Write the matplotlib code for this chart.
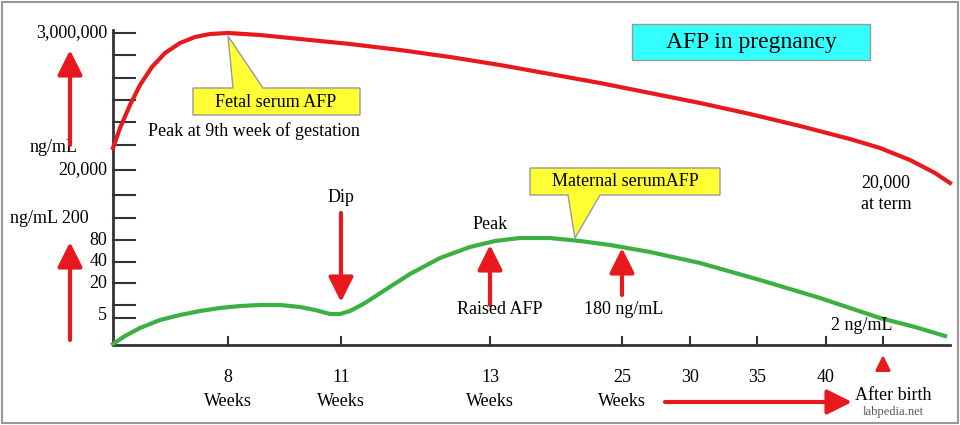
import matplotlib
matplotlib.use("Agg")
import matplotlib.pyplot as plt
from matplotlib.patches import Polygon, Rectangle

plt.rcParams['font.family'] = ['Liberation Serif', 'DejaVu Serif']

# Data (positions in chart pixel units)
fetal_x = [113, 120, 130, 140, 152, 165, 180, 195, 210, 228, 260, 300, 350, 400, 450, 500, 550, 600, 650, 700, 750, 800, 850, 880, 910, 935, 950]
fetal_y = [148, 128, 105, 85, 67, 53, 43, 37, 34, 33, 35, 39, 44, 50, 57, 65, 74, 83, 93, 103, 114, 126, 139, 148, 160, 173, 183]
maternal_x = [113, 125, 140, 160, 180, 200, 220, 240, 260, 280, 300, 315, 330, 340, 350, 365, 385, 410, 440, 470, 495, 520, 550, 580, 610, 650, 700, 760, 820, 880, 915, 945]
maternal_y = [344, 336, 328, 320, 315, 311, 308, 306, 305, 305, 307, 310, 314, 314, 311, 303, 290, 274, 258, 247, 241, 238, 238, 241, 245, 252, 263, 280, 298, 318, 327, 336]
xtick_pos = [228, 341, 490, 622, 690, 757, 826]
xtick_num = ["8", "11", "13", "25", "30", "35", "40"]
xtick_unit = ["Weeks", "Weeks", "Weeks", "Weeks", "", "", ""]
ytick_pos = [33, 55, 78, 100, 122, 145, 170, 195, 218, 240, 262, 283, 305, 318]
ylabels = [(33, "3,000,000"), (170, "20,000"), (240, "80"), (262, "40"), (283, "20"), (316, "5")]

fig = plt.figure(figsize=(9.6, 4.25), dpi=100)
ax = fig.add_axes([0, 0, 1, 1])
ax.set_xlim(0, 960); ax.set_ylim(425, 0); ax.axis('off')

ax.add_patch(Rectangle((2, 2), 956, 421, fill=False, ec='#999999', lw=1.5))

ax.plot([113, 113], [30, 345], color='#333333', lw=2)
ax.plot([113, 950], [345, 345], color='#333333', lw=2)
for y in ytick_pos:
    ax.plot([113, 135], [y, y], color='#333333', lw=1.5)
for x in xtick_pos + [883]:
    ax.plot([x, x], [345, 337], color='#333333', lw=1.5)

fs = 13
for y, t in ylabels:
    ax.text(107, y, t, ha='right', va='center', fontsize=fs)
ax.text(30, 148, "ng/mL", va='center', fontsize=fs)
ax.text(10, 218, "ng/mL 200", va='center', fontsize=fs)
for x, n, u in zip(xtick_pos, xtick_num, xtick_unit):
    ax.text(x, 377, n, ha='center', va='center', fontsize=fs)
    if u:
        ax.text(x, 401, u, ha='center', va='center', fontsize=fs)
ax.text(893, 395, "After birth", ha='center', va='center', fontsize=fs)
ax.text(893, 412, "labpedia.net", ha='center', va='center', fontsize=9, color='#555555')

ax.plot(fetal_x, fetal_y, color='#e8191c', lw=3, solid_joinstyle='round')
ax.plot(maternal_x, maternal_y, color='#3cb043', lw=3, solid_joinstyle='round')

def arrow(x0, y0, x1, y1, lw=3, hw=0.75, hl=1.5):
    ax.annotate("", xy=(x1, y1), xytext=(x0, y0),
                arrowprops=dict(arrowstyle=f"-|>,head_width={hw},head_length={hl}",
                                color='#e8191c', lw=lw, mutation_scale=10,
                                shrinkA=0, shrinkB=0))
arrow(70, 145, 70, 50)
arrow(70, 340, 70, 242)
arrow(341, 213, 341, 302)
arrow(490, 305, 490, 245)
arrow(622, 295, 622, 248)
arrow(665, 402, 852, 402)
arrow(883, 370, 883, 355, lw=2, hw=0.45, hl=0.9)

ax.add_patch(Polygon([(193, 88), (233, 88), (228, 36), (263, 88), (360, 88), (360, 115), (193, 115)],
                     closed=True, fc='#ffff33', ec='#999999', lw=1))
ax.text(276, 102, "Fetal serum AFP", ha='center', va='center', fontsize=fs)
ax.add_patch(Polygon([(530, 168), (720, 168), (720, 195), (600, 195), (575, 238), (568, 195), (530, 195)],
                     closed=True, fc='#ffff33', ec='#999999', lw=1))
ax.text(625, 181, "Maternal serumAFP", ha='center', va='center', fontsize=fs)
ax.add_patch(Rectangle((632, 24), 238, 36, fc='#33ffff', ec='#999999', lw=1))
ax.text(751, 42, "AFP in pregnancy", ha='center', va='center', fontsize=17)

ax.text(148, 131, "Peak at 9th week of gestation", va='center', fontsize=fs)
ax.text(341, 197, "Dip", ha='center', va='center', fontsize=fs)
ax.text(490, 224, "Peak", ha='center', va='center', fontsize=fs)
ax.text(500, 310, "Raised AFP", ha='center', va='center', fontsize=fs)
ax.text(624, 310, "180 ng/mL", ha='center', va='center', fontsize=fs)
ax.text(862, 325, "2 ng/mL", ha='center', va='center', fontsize=fs)
ax.text(886, 183, "20,000", ha='center', va='center', fontsize=fs)
ax.text(886, 204, "at term", ha='center', va='center', fontsize=fs)

fig.savefig("out.png", dpi=100)
